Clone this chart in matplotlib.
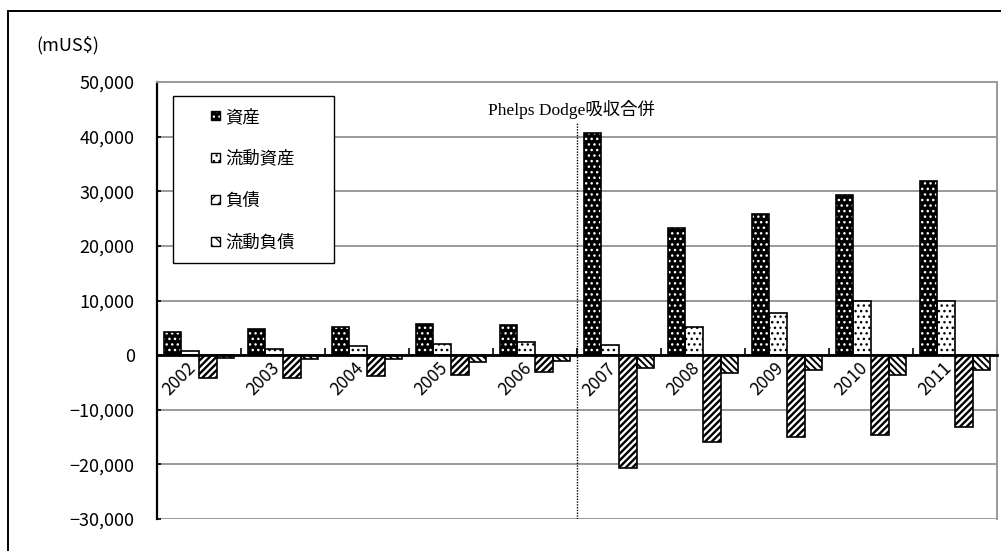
import matplotlib
matplotlib.use('Agg')
import matplotlib.pyplot as plt
from matplotlib.patches import Rectangle
from matplotlib.legend_handler import HandlerBase
import numpy as np

# ---------------- data ----------------
years = ['2002', '2003', '2004', '2005', '2006', '2007', '2008', '2009', '2010', '2011']
assets = [4300, 4800, 5100, 5700, 5450, 40600, 23200, 25900, 29400, 31950]
current_assets = [700, 1200, 1600, 2100, 2400, 1900, 5200, 7650, 10000, 10000]
liabilities = [-4100, -4100, -3800, -3700, -3000, -20700, -15900, -15050, -14600, -13200]
current_liabilities = [-500, -700, -700, -1300, -1000, -2300, -3200, -2800, -3650, -2800]
series_names = ['資産', '流動資産', '負債', '流動負債']
y_ticks = [-30000, -20000, -10000, 0, 10000, 20000, 30000, 40000, 50000]
unit_label = '(mUS$)'
annotation_text = 'Phelps Dodge吸収合併'
event_position = 4.5      # boundary between 2006 and 2007
event_line_top = 42500

# ---------------- styles ----------------
# (face, hatch colour, hatch, hatch linewidth)
styles = [
    ('black', 'white', '...', 1.0),
    ('white', 'black', '...', 1.0),
    ('white', 'black', '/////', 1.7),
    ('white', 'black', '\\\\\\\\\\', 1.4),
]

CJK = ['Noto Sans CJK JP', 'DejaVu Sans']
plt.rcParams['font.family'] = CJK
plt.rcParams['axes.unicode_minus'] = True

FW, FH = 1001, 551
fig = plt.figure(figsize=(FW / 100, FH / 100), dpi=100)
fig.patch.set_facecolor('white')

# outer frame (right/bottom edges run off the picture)
fig.patches.append(Rectangle((8 / FW, -0.1), 1.2, 1.1 - 11 / FH, transform=fig.transFigure,
                             fill=False, ec='black', lw=1.4, clip_on=False))

ax = fig.add_axes([157 / FW, (FH - 519) / FH, (997 - 157) / FW, (519 - 82) / FH])

x = np.arange(len(years))
bw = 0.21
offsets = [-1.5 * bw, -0.5 * bw, 0.5 * bw, 1.5 * bw]
data = [assets, current_assets, liabilities, current_liabilities]


def set_hlw(patch, lw):
    if hasattr(patch, 'set_hatch_linewidth'):
        patch.set_hatch_linewidth(lw)


for vals, off, (face, hcol, hatch, hlw) in zip(data, offsets, styles):
    with plt.rc_context({'hatch.linewidth': hlw}):
        b1 = ax.bar(x + off, vals, bw, color=face, edgecolor=hcol, hatch=hatch,
                    linewidth=0, zorder=2)
    for p in b1:
        set_hlw(p, hlw)
    ax.bar(x + off, vals, bw, facecolor='none', edgecolor='black', linewidth=1.2, zorder=3)

# axes styling
ax.set_xlim(-0.5, len(years) - 0.5)
ax.set_ylim(y_ticks[0], y_ticks[-1])
ax.set_yticks(y_ticks)
ax.set_yticklabels([f'{v:,}'.replace('-', '\u2212') for v in y_ticks], fontsize=13)
ax.tick_params(axis='y', direction='in', length=3, width=1.2, pad=16, color='black')
ax.yaxis.grid(True, color='#9a9a9a', lw=1.4)
ax.set_axisbelow(True)

ax.spines['bottom'].set_position(('data', 0))
ax.spines['bottom'].set_linewidth(2)
ax.spines['bottom'].set_zorder(4)
ax.spines['left'].set_linewidth(1.6)
ax.spines['right'].set_color('#9a9a9a')
ax.spines['right'].set_linewidth(1.4)
ax.spines['top'].set_color('#9a9a9a')
ax.spines['top'].set_linewidth(1.4)

ax.set_xticks(x)
ax.set_xticklabels(years, fontsize=12.5, rotation=45, ha='right', rotation_mode='default')
ax.tick_params(axis='x', which='major', length=0, pad=3)
ax.set_xticks(np.arange(0.5, len(years) - 0.4, 1), minor=True)
ax.tick_params(axis='x', which='minor', direction='in', length=5, width=1.2, color='black')

# event line and annotation
ax.plot([event_position, event_position], [y_ticks[0], event_line_top], color='black',
        lw=1.0, ls=(0, (1, 1)), zorder=5)
ax.text(event_position - 0.07, 44000, annotation_text, ha='center', va='baseline',
        fontsize=12.5, family=['Liberation Serif', 'Noto Sans CJK JP'])

fig.text(36 / FW, 1 - 45 / FH, unit_label, ha='left', va='center', fontsize=13)


# legend with small squares
class SquareHandler(HandlerBase):
    def create_artists(self, legend, orig_handle, xdescent, ydescent, width, height,
                       fontsize, trans):
        face, hcol, hatch, hlw = orig_handle
        s = 0.5 * fontsize
        x0 = width - xdescent - s
        y0 = -ydescent + (height - s) / 2
        with plt.rc_context({'hatch.linewidth': 0.9}):
            r1 = Rectangle((x0, y0), s, s, facecolor=face, edgecolor=hcol,
                           hatch=hatch[:3], lw=0, transform=trans)
        set_hlw(r1, 0.9)
        r2 = Rectangle((x0, y0), s, s, facecolor='none', edgecolor='black', lw=1.0,
                       transform=trans)
        return [r1, r2]


handles = [tuple(st) for st in styles]
leg = ax.legend(handles, series_names, handler_map={tuple: SquareHandler()},
                loc='upper left', mode='expand',
                bbox_to_anchor=(173 / FW, 1 - 262 / FH, 161 / FW, 166 / FH),
                bbox_transform=fig.transFigure, borderaxespad=0,
                fontsize=12.5, frameon=True, fancybox=False, framealpha=1,
                edgecolor='black', borderpad=0.68, labelspacing=1.38,
                handlelength=2.0, handleheight=0.7, handletextpad=0.35)
leg.get_frame().set_linewidth(1.0)
leg.set_zorder(6)

fig.savefig('out.png', dpi=100, facecolor='white')
